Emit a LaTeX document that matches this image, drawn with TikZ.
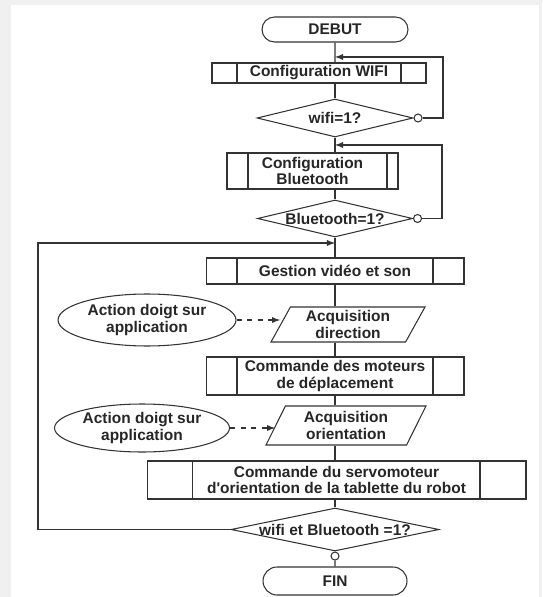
\documentclass[tikz,border=0pt]{standalone}
\usepackage{fontspec}
\setmainfont{Liberation Sans}
\usetikzlibrary{shapes.geometric,shapes.misc,calc}

\newcommand{\centre}[1]{\makebox[0pt]{#1}}

\tikzset{
  trait/.style={line width=0.6pt,draw=black!80},
  fleche/.style={trait,-latex},
  pointille/.style={trait,dashed,-latex},
  texte/.style={font=\bfseries\fontsize{8.8}{9.3}\selectfont,align=center,inner sep=0pt,text=black!85},
  debutfin/.style={texte,trait,rounded rectangle},
  sousprog/.style 2 args={texte,trait,rectangle,
    path picture={
      \draw[trait] ([xshift=#1cm]path picture bounding box.north west) -- ([xshift=#1cm]path picture bounding box.south west);
      \draw[trait] ([xshift=-#2cm]path picture bounding box.north east) -- ([xshift=-#2cm]path picture bounding box.south east);
    }},
  test/.style={texte,trait,diamond,aspect=4},
  saisie/.style={texte,trait,trapezium,trapezium left angle=55,trapezium right angle=125,trapezium stretches body},
  action/.style={texte,trait,ellipse},
  rond/.style={trait,circle,fill=white,inner sep=0pt,minimum size=0.16cm}
}

\begin{document}
\begin{tikzpicture}[x=0.02cm,y=-0.02cm]
\useasboundingbox (0,0) rectangle (542,597);
\fill[gray!12] (0,0) rectangle (542,597);
\fill[white] (11,5) rectangle (539,597);

\node[debutfin,minimum width=2.92cm,minimum height=0.5cm] (debut) at (335,29.5) {DEBUT};
\node[sousprog={0.5}{0.5},minimum width=4.28cm,minimum height=0.4cm] (wifi) at (319,73) {Configuration WIFI};
\node[test,minimum width=3.12cm,minimum height=0.76cm] (testwifi) at (335,118) {\centre{wifi=1?}};
\node[sousprog={0.42}{0.22},minimum width=3.42cm,minimum height=0.72cm] (bt) at (312.5,171) {Configuration\\Bluetooth};
\node[test,minimum width=3.1cm,minimum height=0.74cm] (testbt) at (335,218.5) {\centre{Bluetooth=1?}};
\node[sousprog={0.62}{0.62},minimum width=5.16cm,minimum height=0.52cm] (gestion) at (335,271) {Gestion vidéo et son};
\node[saisie,minimum width=3.08cm,minimum height=0.7cm] (acqdir) at (348,324.5) {Acquisition\\direction};
\node[action,minimum width=3.56cm,minimum height=1.04cm] (doigt1) at (147,320) {Action doigt sur\\application};
\node[sousprog={0.62}{0.62},minimum width=5.16cm,minimum height=0.76cm] (moteurs) at (335,376) {Commande des moteurs\\de déplacement};
\node[saisie,minimum width=3.2cm,minimum height=0.78cm] (acqori) at (346,425.5) {Acquisition\\orientation};
\node[action,minimum width=3.5cm,minimum height=0.96cm] (doigt2) at (142,428) {Action doigt sur\\application};
\node[sousprog={0.9}{0.92},minimum width=7.58cm,minimum height=0.76cm] (servo) at (336.5,480) {Commande du servomoteur\\d\textquotesingle orientation de la tablette du robot};
\node[test,minimum width=4.16cm,minimum height=0.86cm] (testfin) at (335,529.5) {\centre{wifi et Bluetooth =1?}};
\node[debutfin,minimum width=2.88cm,minimum height=0.56cm] (fin) at (335,581) {FIN};

% ronds des sorties "non"
\node[rond,anchor=west] (non1) at (testwifi.east) {};
\node[rond,anchor=west] (non2) at (testbt.east) {};
\node[rond,anchor=north] (oui) at (testfin.south) {};

\coordinate (retour1) at (443,57);
\coordinate (retour2) at (442,145);
\coordinate (retour3) at (38,243);

% fil principal
\draw[trait] (debut) -- (debut |- wifi.north);
\draw[trait] (debut |- wifi.south) -- (testwifi.north);
\draw[trait] (testwifi.south) -- (debut |- bt.north);
\draw[trait] (debut |- bt.south) -- (testbt.north);
\draw[trait] (testbt.south) -- (gestion.north);
\draw[trait] (gestion.south) -- (debut |- acqdir.north);
\draw[trait] (debut |- acqdir.south) -- (moteurs.north);
\draw[trait] (moteurs.south) -- (debut |- acqori.north);
\draw[trait] (debut |- acqori.south) -- (servo.north -| debut);
\draw[trait] (servo.south -| debut) -- (testfin.north);
\draw[trait] (oui) -- (fin);

% boucles
\draw[fleche] (non1) -| (retour1) -- (debut |- retour1);
\draw[fleche] (non2) -| (retour2) -- (debut |- retour2);
\draw[fleche] (testfin.west) -| (retour3) -- (debut |- retour3);

% actions de l'utilisateur
\draw[pointille] (doigt1) -- (doigt1 -| acqdir.west);
\draw[pointille] (doigt2) -- (doigt2 -| acqori.west);
\end{tikzpicture}
\end{document}
